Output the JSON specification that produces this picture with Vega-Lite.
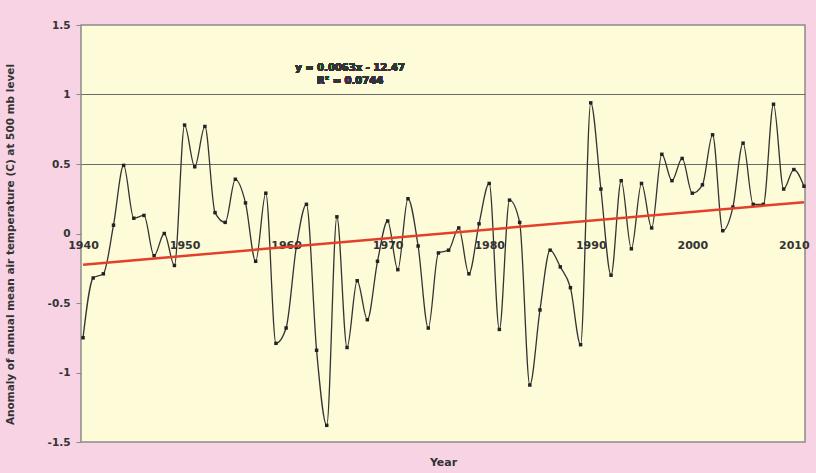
{
  "$schema": "https://vega.github.io/schema/vega-lite/v6.json",
  "width": 724,
  "height": 417,
  "autosize": "none",
  "padding": {"left": 81, "top": 25, "right": 11, "bottom": 31},
  "background": "#f7d3e4",
  "config": {
    "view": {"fill": "#fefbd8", "stroke": "#8c8c8c", "strokeWidth": 1.5},
    "font": "DejaVu Sans"
  },
  "data": {
    "values": [
      {"year": 1940, "anomaly": -0.75}, {"year": 1941, "anomaly": -0.32}, {"year": 1942, "anomaly": -0.29},
      {"year": 1943, "anomaly": 0.06}, {"year": 1944, "anomaly": 0.49}, {"year": 1945, "anomaly": 0.11},
      {"year": 1946, "anomaly": 0.13}, {"year": 1947, "anomaly": -0.16}, {"year": 1948, "anomaly": 0.0},
      {"year": 1949, "anomaly": -0.23}, {"year": 1950, "anomaly": 0.78}, {"year": 1951, "anomaly": 0.48},
      {"year": 1952, "anomaly": 0.77}, {"year": 1953, "anomaly": 0.15}, {"year": 1954, "anomaly": 0.08},
      {"year": 1955, "anomaly": 0.39}, {"year": 1956, "anomaly": 0.22}, {"year": 1957, "anomaly": -0.2},
      {"year": 1958, "anomaly": 0.29}, {"year": 1959, "anomaly": -0.79}, {"year": 1960, "anomaly": -0.68},
      {"year": 1961, "anomaly": -0.1}, {"year": 1962, "anomaly": 0.21}, {"year": 1963, "anomaly": -0.84},
      {"year": 1964, "anomaly": -1.38}, {"year": 1965, "anomaly": 0.12}, {"year": 1966, "anomaly": -0.82},
      {"year": 1967, "anomaly": -0.34}, {"year": 1968, "anomaly": -0.62}, {"year": 1969, "anomaly": -0.2},
      {"year": 1970, "anomaly": 0.09}, {"year": 1971, "anomaly": -0.26}, {"year": 1972, "anomaly": 0.25},
      {"year": 1973, "anomaly": -0.09}, {"year": 1974, "anomaly": -0.68}, {"year": 1975, "anomaly": -0.14},
      {"year": 1976, "anomaly": -0.12}, {"year": 1977, "anomaly": 0.04}, {"year": 1978, "anomaly": -0.29},
      {"year": 1979, "anomaly": 0.07}, {"year": 1980, "anomaly": 0.36}, {"year": 1981, "anomaly": -0.69},
      {"year": 1982, "anomaly": 0.24}, {"year": 1983, "anomaly": 0.08}, {"year": 1984, "anomaly": -1.09},
      {"year": 1985, "anomaly": -0.55}, {"year": 1986, "anomaly": -0.12}, {"year": 1987, "anomaly": -0.24},
      {"year": 1988, "anomaly": -0.39}, {"year": 1989, "anomaly": -0.8}, {"year": 1990, "anomaly": 0.94},
      {"year": 1991, "anomaly": 0.32}, {"year": 1992, "anomaly": -0.3}, {"year": 1993, "anomaly": 0.38},
      {"year": 1994, "anomaly": -0.11}, {"year": 1995, "anomaly": 0.36}, {"year": 1996, "anomaly": 0.04},
      {"year": 1997, "anomaly": 0.57}, {"year": 1998, "anomaly": 0.38}, {"year": 1999, "anomaly": 0.54},
      {"year": 2000, "anomaly": 0.29}, {"year": 2001, "anomaly": 0.35}, {"year": 2002, "anomaly": 0.71},
      {"year": 2003, "anomaly": 0.02}, {"year": 2004, "anomaly": 0.19}, {"year": 2005, "anomaly": 0.65},
      {"year": 2006, "anomaly": 0.21}, {"year": 2007, "anomaly": 0.21}, {"year": 2008, "anomaly": 0.93},
      {"year": 2009, "anomaly": 0.32}, {"year": 2010, "anomaly": 0.46}, {"year": 2011, "anomaly": 0.34}
    ]
  },
  "layer": [
    {
      "mark": {"type": "line", "interpolate": "monotone", "color": "#333333", "strokeWidth": 1.3,
               "point": {"filled": true, "color": "#222222", "size": 12, "shape": "square"}},
      "encoding": {
        "x": {
          "field": "year", "type": "quantitative",
          "scale": {"domain": [1939.8, 2011.1], "nice": false, "zero": false},
          "axis": {
            "values": [1940, 1950, 1960, 1970, 1980, 1990, 2000, 2010],
            "labelExpr": "'' + datum.value",
            "offset": -209, "domain": false, "ticks": false, "grid": false,
            "labelFont": "DejaVu Sans", "labelFontWeight": "bold", "labelFontSize": 11, "labelColor": "#333",
            "labelPadding": 6, "labelFlush": false,
            "title": "Year", "titleFont": "DejaVu Sans", "titleFontWeight": "bold", "titleFontSize": 11,
            "titleColor": "#333", "titleY": 229, "titleBaseline": "middle"
          }
        },
        "y": {
          "field": "anomaly", "type": "quantitative",
          "scale": {"domain": [-1.5, 1.5], "nice": false},
          "axis": {
            "values": [-1.5, -1, -0.5, 0, 0.5, 1, 1.5],
            "labelExpr": "'' + datum.value",
            "domain": false, "tickSize": 5, "tickColor": "#888",
            "grid": true, "gridColor": "#6b6b6b", "gridWidth": 1,
            "gridOpacity": {"condition": {"test": "datum.value > 0.25 && datum.value < 1.25", "value": 1}, "value": 0},
            "labelFont": "DejaVu Sans", "labelFontWeight": "bold", "labelFontSize": 10.5, "labelColor": "#333",
            "labelPadding": 6,
            "title": "Anomaly of annual mean air temperature (C) at 500 mb level",
            "titleFont": "DejaVu Sans", "titleFontWeight": "bold", "titleFontSize": 10.5, "titleColor": "#333",
            "titleX": -66, "titleY": 219
          }
        }
      }
    },
    {
      "transform": [{"regression": "anomaly", "on": "year"}],
      "mark": {"type": "line", "color": "#e2402a", "strokeWidth": 2.5},
      "encoding": {
        "x": {"field": "year", "type": "quantitative"},
        "y": {"field": "anomaly", "type": "quantitative"}
      }
    },
    {
      "mark": {"type": "text", "text": ["y = 0.0063x - 12.47", "R² = 0.0744"], "font": "DejaVu Sans",
               "fontWeight": "bold", "fontSize": 10, "color": "#333", "align": "center", "baseline": "middle", "lineHeight": 13},
      "encoding": {
        "x": {"datum": 1966.3, "type": "quantitative"},
        "y": {"datum": 1.19, "type": "quantitative"}
      }
    }
  ]
}
